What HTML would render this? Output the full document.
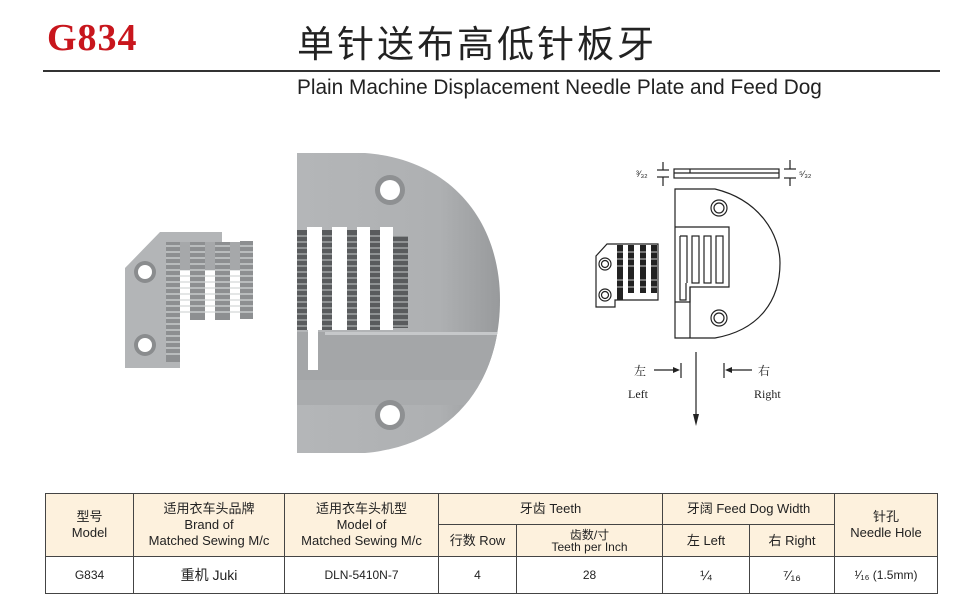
<!DOCTYPE html>
<html><head><meta charset="utf-8"><style>
body{margin:0;background:#fff;width:980px;height:599px;overflow:hidden;position:relative;font-family:"Liberation Sans","Noto Sans CJK SC",sans-serif;}
.abs{position:absolute;white-space:nowrap}
table{position:absolute;left:45px;top:493px;border-collapse:collapse;font-size:13px;color:#222;}
td{border:1px solid #444;text-align:center;padding:0;line-height:16px}
.h td{background:#fdf1dd}
</style></head><body>
<div class="abs" style="left:47px;top:16px;font:bold 38px 'Liberation Serif',serif;color:#c8161d;letter-spacing:1px">G834</div>
<div class="abs" style="left:297px;top:16px;font-size:37px;color:#222;font-family:'Noto Sans CJK SC',sans-serif;letter-spacing:3px;line-height:50px">单针送布高低针板牙</div>
<div style="position:absolute;left:43px;top:70px;width:897px;height:2px;background:#333"></div>
<div class="abs" style="left:297px;top:76px;font-size:20.8px;color:#222">Plain Machine Displacement Needle Plate and Feed Dog</div>

<svg style="position:absolute;left:0;top:0" width="980" height="599">
<defs><linearGradient id="g" x1="0" x2="1"><stop offset="0" stop-color="#b4b6b8"/><stop offset="0.7" stop-color="#aeb0b2"/><stop offset="1" stop-color="#989a9c"/></linearGradient>
<clipPath id="pc"><path d="M297,153 L365,153 C455,160 500,225 500,300 C500,380 455,445 365,453 L297,453Z"/></clipPath></defs>
<!-- feed dog photo -->
<path d="M160,232 L222,232 L222,242 L180,242 L180,368 L125,368 L125,268 L160,232Z" fill="#b3b5b7"/>
<g fill="#8d8f91">
<rect x="166" y="242" width="14" height="120"/><rect x="190" y="242" width="15" height="78"/><rect x="215" y="242" width="15" height="78"/><rect x="240" y="241" width="13" height="78"/>
</g>
<g stroke="#d4d6d8" stroke-width="1.2">
<path d="M166,246H253M166,252H253M166,258H253M166,264H253M166,270H253M166,276H253M166,282H253M166,288H253M166,294H253M166,300H253M166,306H253M166,312H253M166,318H180M166,324H180M166,330H180M166,336H180M166,342H180M166,348H180M166,354H180" />
</g>
<rect x="180" y="242" width="10" height="28" fill="#a6a8aa"/><rect x="205" y="242" width="10" height="28" fill="#a6a8aa"/><rect x="230" y="242" width="10" height="28" fill="#a6a8aa"/>
<circle cx="145" cy="272" r="11" fill="#8a8c8e"/><circle cx="145" cy="272" r="7" fill="#fff"/>
<circle cx="145" cy="345" r="11" fill="#8a8c8e"/><circle cx="145" cy="345" r="7" fill="#fff"/>
<!-- needle plate photo -->
<path d="M297,153 L365,153 C455,160 500,225 500,300 C500,380 455,445 365,453 L297,453Z" fill="url(#g)"/>
<g clip-path="url(#pc)">
<rect x="297" y="332" width="210" height="48" fill="#a4a6a8"/>
<rect x="297" y="380" width="210" height="25" fill="#a9abad"/>
<rect x="325" y="332" width="180" height="3" fill="#c6c8ca"/>
</g>
<g fill="#595b5d">
<rect x="297" y="230" width="10" height="100"/><rect x="322" y="230" width="10" height="100"/><rect x="347" y="230" width="10" height="100"/><rect x="370" y="230" width="10" height="100"/><rect x="393" y="236" width="15" height="92"/>
</g>
<g stroke="#b0b2b4" stroke-width="1.3"><path d="M297,236H408M297,242H408M297,248H408M297,254H408M297,260H408M297,266H408M297,272H408M297,278H408M297,284H408M297,290H408M297,296H408M297,302H408M297,308H408M297,314H408M297,320H408M297,326H408"/></g>
<g fill="#fff"><rect x="307" y="227" width="15" height="103"/><rect x="332" y="227" width="15" height="103"/><rect x="357" y="227" width="13" height="103"/><rect x="380" y="227" width="13" height="103"/><rect x="308" y="330" width="10" height="40"/></g>
<circle cx="390" cy="190" r="15" fill="#8e9092"/><circle cx="390" cy="190" r="10" fill="#fff"/>
<circle cx="390" cy="415" r="15" fill="#8e9092"/><circle cx="390" cy="415" r="10" fill="#fff"/>

<!-- line diagram -->
<g fill="none" stroke="#222" stroke-width="1.2">
<rect x="674" y="169" width="105" height="9"/><line x1="674" y1="173" x2="779" y2="173"/><line x1="690" y1="169" x2="690" y2="173"/>
<line x1="663" y1="162" x2="663" y2="170"/><line x1="663" y1="177" x2="663" y2="186"/><line x1="657" y1="170" x2="669" y2="170"/><line x1="657" y1="177" x2="669" y2="177"/>
<line x1="790" y1="160" x2="790" y2="169"/><line x1="790" y1="178" x2="790" y2="186"/><line x1="784" y1="169" x2="796" y2="169"/><line x1="784" y1="178" x2="796" y2="178"/>
<path d="M675,189 L715,189 C760,200 780,235 780,263 C780,300 760,330 715,338 L675,338Z"/>
<path d="M675,227 L729,227 L729,287 L690,287 L690,302 L675,302"/>
<line x1="690" y1="302" x2="690" y2="338"/><line x1="690" y1="287" x2="690" y2="302"/>
<path d="M680,236 H687 V283"/><path d="M680,236 V300 H686 V283"/>
<rect x="692" y="236" width="7" height="47"/><rect x="704" y="236" width="7" height="47"/><rect x="716" y="236" width="7" height="47"/>
<circle cx="719" cy="208" r="8"/><circle cx="719" cy="208" r="5"/><circle cx="719" cy="318" r="8"/><circle cx="719" cy="318" r="5"/>
<path d="M607,244 L658,244 L658,300 L615,300 L615,307 L596,307 L596,256Z"/>
<circle cx="605" cy="264" r="6"/><circle cx="605" cy="264" r="3.5"/><circle cx="605" cy="295" r="6"/><circle cx="605" cy="295" r="3.5"/>
<circle cx="631" cy="275" r="1.8"/>
<line x1="696" y1="352" x2="696" y2="418"/>
<line x1="681" y1="363" x2="681" y2="378"/><line x1="724" y1="363" x2="724" y2="378"/>
<line x1="654" y1="370" x2="675" y2="370"/><line x1="730" y1="370" x2="752" y2="370"/>
</g>
<g fill="#222">
<rect x="617" y="245" width="6" height="55"/><rect x="628" y="245" width="6" height="48"/><rect x="640" y="245" width="6" height="48"/><rect x="651" y="245" width="6" height="48"/>
<path d="M693,414 L696,426 L699,414Z"/><path d="M680,370 L673,367 L673,373Z"/><path d="M725,370 L732,367 L732,373Z"/>
</g>
<g stroke="#fff" stroke-width="0.8"><path d="M617,252H657M617,259H657M617,266H657M617,280H657M617,287H657"/></g>
<g font-family="Liberation Sans,sans-serif" font-size="9" fill="#222"><text x="636" y="177">³⁄₃₂</text><text x="799" y="177">⁵⁄₃₂</text></g>
<g font-family="Liberation Serif,'Noto Serif CJK SC',serif" font-size="12" fill="#222">
<text x="634" y="375">左</text><text x="758" y="375">右</text><text x="628" y="398">Left</text><text x="754" y="398">Right</text></g>
</svg>

<table>
<tr class="h" style="height:31px"><td rowspan="2" style="width:87px">型号<br>Model</td><td rowspan="2" style="width:150px">适用衣车头品牌<br>Brand of<br>Matched Sewing M/c</td><td rowspan="2" style="width:153px">适用衣车头机型<br>Model of<br>Matched Sewing M/c</td><td colspan="2">牙齿 Teeth</td><td colspan="2">牙阔 Feed Dog Width</td><td rowspan="2" style="width:102px">针孔<br>Needle Hole</td></tr>
<tr class="h" style="height:32px"><td style="width:77px">行数 Row</td><td style="width:145px;font-size:12px;line-height:12px">齿数/寸<br>Teeth per Inch</td><td style="width:86px">左 Left</td><td style="width:84px">右 Right</td></tr>
<tr style="height:37px;font-size:12px"><td>G834</td><td style="font-size:14px">重机 Juki</td><td>DLN-5410N-7</td><td>4</td><td>28</td><td style="font-size:14px">¼</td><td style="font-size:14px">⁷⁄₁₆</td><td>¹⁄₁₆ (1.5mm)</td></tr>
</table>
</body></html>
